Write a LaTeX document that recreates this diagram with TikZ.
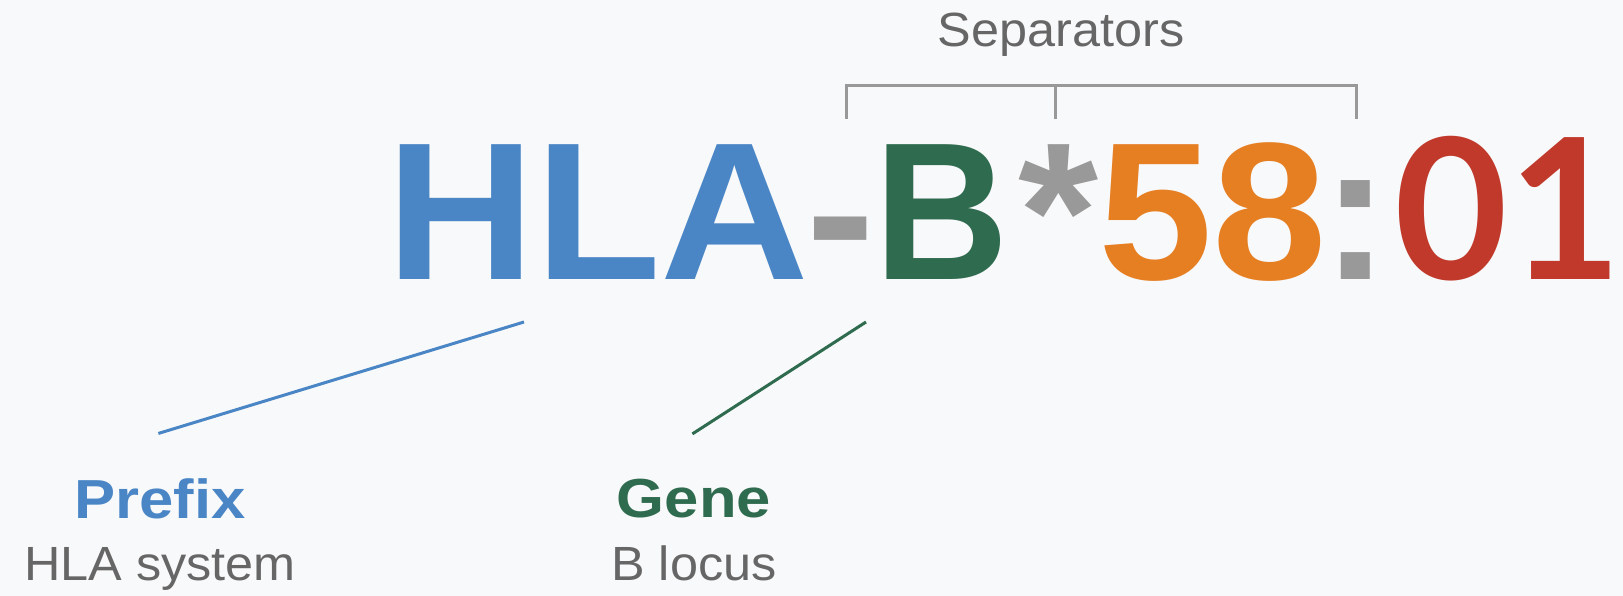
\documentclass[tikz,border=0pt]{standalone}
\usepackage{fontspec}
\setmainfont{Liberation Sans}[FakeStretch=1.05]
\newfontfamily\labelfont{Liberation Sans}[FakeStretch=1.12]
\newfontfamily\genefont{Liberation Sans}[FakeStretch=0.95]
\newfontfamily\digitfont{Lato}
\usepackage{tikz}
\usetikzlibrary{positioning, calc}
\usepackage{xcolor}

\definecolor{prefixblue}{HTML}{4A86C6}
\definecolor{genegreen}{HTML}{2E6B4F}
\definecolor{fieldorange}{HTML}{E67E22}
\definecolor{fieldred}{HTML}{C0392B}
\definecolor{sepgray}{HTML}{999999}
\definecolor{notegray}{HTML}{666666}
\definecolor{paper}{HTML}{F8F9FA}

\newcommand\allelesize{\fontsize{196}{196}\selectfont\bfseries}

\begin{document}
\begin{tikzpicture}[
  x=1pt, y=-1pt,
  allele/.style={font=\allelesize, inner sep=0pt, outer sep=0pt, anchor=base west},
  parttitle/.style={font=\labelfont\fontsize{55}{55}\selectfont\bfseries, inner sep=0pt, anchor=base},
  partnote/.style={font=\fontsize{48}{48}\selectfont, text=notegray, inner sep=0pt, anchor=base},
  bracket/.style={draw=sepgray, line width=3pt},
  link/.style={line width=3pt}
]

% Canvas
\useasboundingbox (0,0) rectangle (1623,596);
\fill[paper] (0,0) rectangle (1623,596);

% Allele name, one node per field
\node[allele, text=prefixblue] (hla) at (386.5,279.5) {HLA};
\node[allele, text=sepgray] (dash) at ([xshift=-3pt]hla.base east) {-};
\node[allele, text=genegreen, font=\genefont\allelesize] (gene) at (dash.base east) {B};
\node[allele, text=sepgray] (star) at ([xshift=9pt]gene.base east) {*};
\node[allele, text=fieldorange] (field1) at (star.base east) {58};
\node[allele, text=sepgray] (colon) at ([xshift=-6pt]field1.base east) {:};
\node[allele, text=fieldred, font=\digitfont\fontsize{196}{196}\selectfont\bfseries] (field2) at ([xshift=4.5pt]colon.base east) {01};

% Separators bracket
\node[partnote] (seps) at (1061,47) {Separators};
\draw[bracket] (846.6,119) |- (1356,86) -- (1356,119);
\draw[bracket] (1055,86) -- (1055,119);

% Labels
\node[parttitle, text=prefixblue] (prefix) at (160,518.5) {Prefix};
\node[partnote] (prefixnote) at ($(prefix.base)+(0,62)$) {HLA system};
\node[parttitle, text=genegreen] (locus) at (694,517.5) {Gene};
\node[partnote] (locusnote) at ($(locus.base)+(0,63)$) {B locus};

% Links
\coordinate (hlafoot) at ($(hla.base west)+(137.5,42.5)$);
\coordinate (genefoot) at ($(gene.base west)+(-9,42.5)$);
\draw[link, prefixblue] (hlafoot) -- ([xshift=-1.6pt, yshift=45pt]prefix.north);
\draw[link, genegreen] (genefoot) -- ([xshift=-1.6pt, yshift=45pt]locus.north);

\end{tikzpicture}
\end{document}
